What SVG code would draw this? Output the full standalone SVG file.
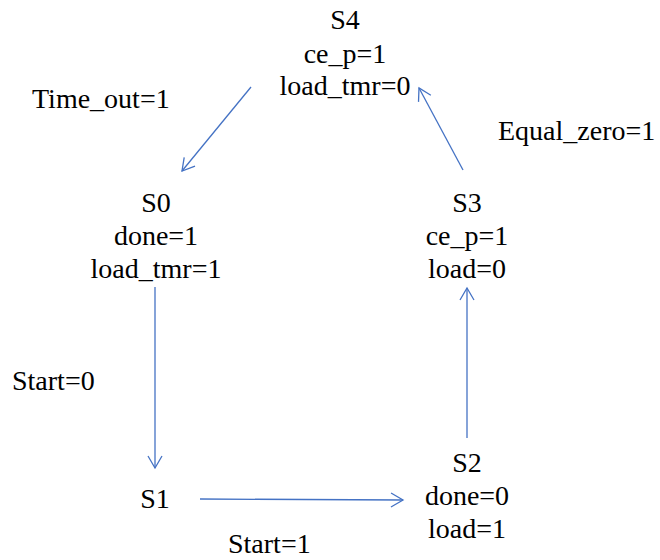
<svg xmlns="http://www.w3.org/2000/svg" width="660" height="560" viewBox="0 0 660 560">
  <style>
    text { font-family: 'Liberation Serif', 'DejaVu Serif', 'Times New Roman', serif; font-size: 28px; fill: #000; }
    .c { text-anchor: middle; }
    .edge { stroke: #4472C4; stroke-width: 1.3; fill: none; marker-end: url(#arrow); }
  </style>
  <defs>
    <marker id="arrow" markerUnits="userSpaceOnUse" markerWidth="20" markerHeight="20" refX="14" refY="8" orient="auto">
      <path d="M2,1 L14,8 L2,15" fill="none" stroke="#4472C4" stroke-width="1.3"/>
    </marker>
  </defs>
  <rect width="660" height="560" fill="#fff"/>

  <g id="connectors">
    <line class="edge" x1="251" y1="87" x2="182" y2="171"/>
    <line class="edge" x1="155" y1="287" x2="155" y2="468"/>
    <line class="edge" x1="200" y1="499" x2="403" y2="500"/>
    <line class="edge" x1="467" y1="438" x2="467" y2="288"/>
    <line class="edge" x1="463" y1="170" x2="419" y2="88"/>
  </g>

  <g id="edge-labels">
    <text x="32" y="108">Time_out=1</text>
    <text x="498" y="140">Equal_zero=1</text>
    <text x="12" y="390">Start=0</text>
    <text x="228" y="553">Start=1</text>
  </g>

  <g id="S4">
    <text class="c" x="345" y="29">S4</text>
    <text class="c" x="345" y="63">ce_p=1</text>
    <text class="c" x="345" y="95">load_tmr=0</text>
  </g>
  <g id="S0">
    <text class="c" x="156" y="212">S0</text>
    <text class="c" x="156" y="245">done=1</text>
    <text class="c" x="156" y="278">load_tmr=1</text>
  </g>
  <g id="S3">
    <text class="c" x="467" y="212">S3</text>
    <text class="c" x="467" y="245">ce_p=1</text>
    <text class="c" x="467" y="278">load=0</text>
  </g>
  <g id="S1">
    <text class="c" x="155" y="508">S1</text>
  </g>
  <g id="S2">
    <text class="c" x="467" y="472">S2</text>
    <text class="c" x="467" y="505">done=0</text>
    <text class="c" x="467" y="538">load=1</text>
  </g>
</svg>
